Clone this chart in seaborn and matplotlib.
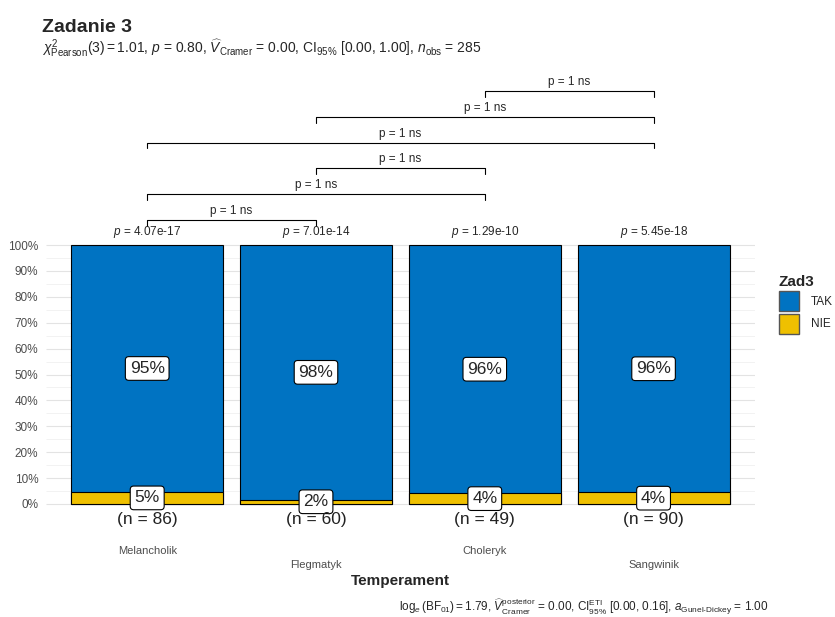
import numpy as np
import pandas as pd
import matplotlib
matplotlib.use("Agg")
import matplotlib.pyplot as plt
import seaborn as sns
from matplotlib.patches import Patch

# ---------------- DATA ----------------
temperament = ["Melancholik", "Flegmatyk", "Choleryk", "Sangwinik"]
n_total = [86, 60, 49, 90]
n_nie = [4, 1, 2, 4]
tak_labels = ["95%", "98%", "96%", "96%"]
nie_labels = ["5%", "2%", "4%", "4%"]
p_labels = ["4.07e-17", "7.01e-14", "1.29e-10", "5.45e-18"]
pairs = [(0, 1), (0, 2), (1, 2), (0, 3), (1, 3), (2, 3)]
pair_labels = ["p = 1 ns"] * 6

blue = "#0073C2"
yellow = "#EFC000"

df = pd.DataFrame({"Temperament": temperament, "n": n_total, "nie": n_nie})
df["p_nie"] = df["nie"] / df["n"]
df["total"] = 1.0

# ---------------- PLOT ----------------
sns.set_style("white")
plt.rcParams["font.family"] = ["Liberation Sans", "DejaVu Sans"]
plt.rcParams["mathtext.fontset"] = "custom"
plt.rcParams["mathtext.rm"] = "Liberation Sans"
plt.rcParams["mathtext.it"] = "Liberation Sans:italic"

fig = plt.figure(figsize=(8.35, 6.17), dpi=100)
ax = fig.add_axes([0.055, 0.130, 0.849, 0.740])

# grid only within 0-100%
for v in np.arange(0, 1.01, 0.1):
    ax.hlines(v, -0.6, 3.6, color="#E3E3E3", lw=0.8, zorder=0)
for v in np.arange(0.05, 1.0, 0.1):
    ax.hlines(v, -0.6, 3.6, color="#F0F0F0", lw=0.6, zorder=0)

sns.barplot(data=df, x="Temperament", y="total", color=blue, width=0.9,
            edgecolor="black", linewidth=0.8, saturation=1, ax=ax, zorder=2)
sns.barplot(data=df, x="Temperament", y="p_nie", color=yellow, width=0.9,
            edgecolor="black", linewidth=0.8, saturation=1, ax=ax, zorder=3)

box = dict(boxstyle="round,pad=0.25,rounding_size=0.2", fc="white", ec="black", lw=0.8)
for i, row in df.iterrows():
    ax.text(i, (1 + row["p_nie"]) / 2, tak_labels[i], ha="center", va="center",
            fontsize=12.5, bbox=box, zorder=5)
    ax.text(i, row["p_nie"] / 2, nie_labels[i], ha="center", va="center",
            fontsize=12.5, bbox=box, zorder=5)
    ax.text(i, -0.06, f"(n = {row['n']})", ha="center", va="center",
            fontsize=12.5, color="#222222", zorder=5)
    ax.text(i, 1.05, rf"$\mathit{{p}}$ = {p_labels[i]}", ha="center", va="center",
            fontsize=8.5, zorder=5)

# pairwise brackets
level = 1.097
for (a, b), lab in zip(pairs, pair_labels):
    tip = 0.022
    ax.plot([a, a, b, b], [level - tip, level, level, level - tip],
            color="black", lw=0.8, clip_on=False)
    ax.text((a + b) / 2, level + 0.012, lab, ha="center", va="bottom", fontsize=8.5)
    level += 0.0996

ax.set_xlim(-0.6, 3.6)
ax.set_ylim(-0.127, 1.637)
ax.set_yticks(np.arange(0, 1.01, 0.1))
ax.set_yticklabels([f"{int(v)}%" for v in np.arange(0, 101, 10)], fontsize=8.5, color="#4D4D4D")
ax.set_xticks(range(4))
ax.set_xticklabels([t if i % 2 == 0 else "\n" + t for i, t in enumerate(temperament)],
                   fontsize=8, color="#4D4D4D", linespacing=1.5)
ax.tick_params(axis="both", length=2.5, width=0.6, color="#333333", pad=3)
ax.tick_params(axis="x", pad=4)
for s in ax.spines.values():
    s.set_visible(False)
ax.set_ylabel("")
ax.set_xlabel("Temperament", fontsize=11, fontweight="bold", labelpad=3)

# titles
fig.text(0.050, 0.955, "Zadanie 3", fontsize=14, fontweight="bold", va="center")
fig.text(0.050, 0.922,
         r"$\chi^2_{\mathrm{Pearson}}(3) = 1.01$, $\mathit{p}$ = 0.80, "
         r"$\widehat{\mathit{V}}_{\mathrm{Cramer}}$ = 0.00, CI$_{95\%}$ [0.00, 1.00], "
         r"$\mathit{n}_{\mathrm{obs}}$ = 285",
         fontsize=10, va="center")
fig.text(0.92, 0.017,
         r"$\log_e(\mathrm{BF}_{01}) = 1.79$, "
         r"$\widehat{\mathit{V}}^{\mathrm{posterior}}_{\mathrm{Cramer}}$ = 0.00, "
         r"CI$^{\mathrm{ETI}}_{95\%}$ [0.00, 0.16], "
         r"$\mathit{a}_{\text{Gunel-Dickey}}$ = 1.00",
         fontsize=8.5, ha="right", va="center")

# legend
handles = [Patch(facecolor=blue, edgecolor="#555555", label="TAK"),
           Patch(facecolor=yellow, edgecolor="#555555", label="NIE")]
leg = fig.legend(handles=handles, title="Zad3", loc="upper left",
                 bbox_to_anchor=(0.924, 0.566), frameon=False, fontsize=8.5,
                 title_fontproperties={"weight": "bold", "size": 11},
                 handlelength=1.75, handleheight=2.25, labelspacing=0.2,
                 handletextpad=1.0, borderaxespad=0.2, alignment="left")

fig.savefig("out.png", dpi=100)
